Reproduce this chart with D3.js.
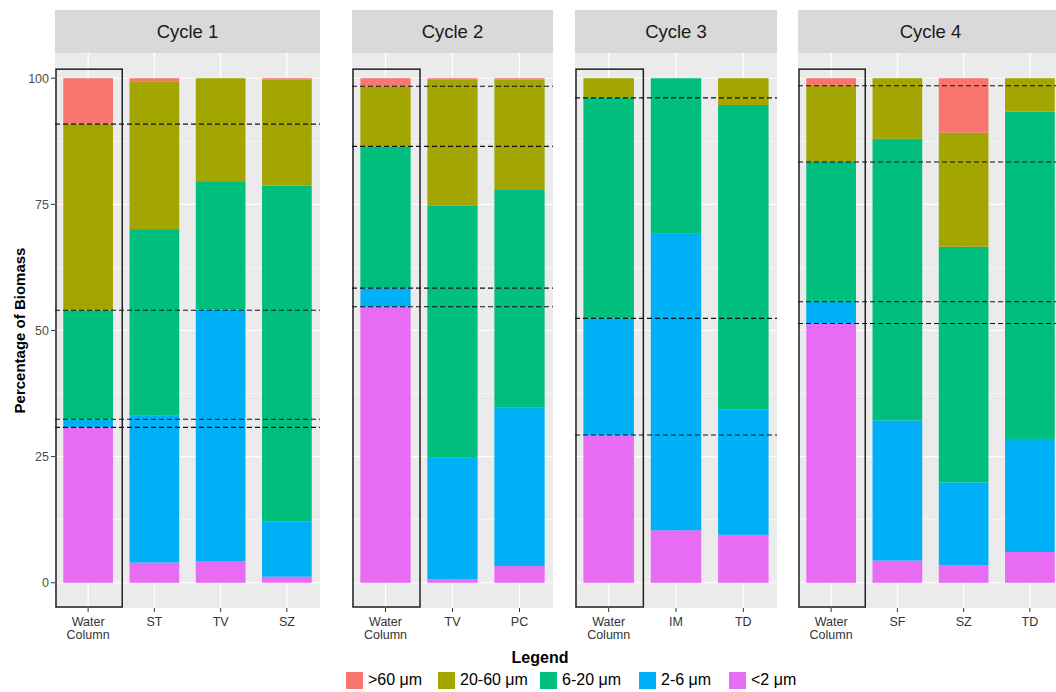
<!DOCTYPE html>
<html>
<head>
<meta charset="utf-8">
<script src="https://cdn.jsdelivr.net/npm/d3@7"></script>
<style>
  html, body { margin: 0; padding: 0; background: #fff; }
  svg { display: block; font-family: "Liberation Sans", Arial, sans-serif; }
</style>
</head>
<body>
<svg id="chart" width="1056" height="692"></svg>
<script>
// ---------------- data ----------------
const cycles = ["Cycle 1", "Cycle 2", "Cycle 3", "Cycle 4"];
const sites = [
  ["Water Column", "ST", "TV", "SZ"],
  ["Water Column", "TV", "PC"],
  ["Water Column", "IM", "TD"],
  ["Water Column", "SF", "SZ", "TD"]
];
const sizeClasses = ["<2 μm", "2-6 μm", "6-20 μm", "20-60 μm", ">60 μm"]; // stacking order bottom -> top
const legendOrder = [">60 μm", "20-60 μm", "6-20 μm", "2-6 μm", "<2 μm"];
const lt2   = [[30.8, 4.0, 4.3, 1.2], [54.7, 0.7, 3.3], [29.3, 10.4, 9.5], [51.4, 4.4, 3.5, 6.1]];
const s2to6 = [[1.6, 29.1, 49.9, 10.9], [3.7, 24.2, 31.5], [23.1, 58.9, 24.8], [4.3, 27.8, 16.4, 22.4]];
const s6to20 = [[21.6, 37.0, 25.4, 66.6], [28.1, 49.9, 43.2], [43.7, 30.7, 60.4], [27.7, 55.8, 46.7, 64.9]];
const s20to60 = [[36.9, 29.3, 20.4, 21.0], [11.9, 25.0, 21.7], [3.9, 0, 5.3], [15.1, 12.0, 22.6, 6.6]];
const gt60  = [[9.1, 0.6, 0, 0.3], [1.6, 0.2, 0.3], [0, 0, 0], [1.5, 0, 10.8, 0]];
const yTicks = [0, 25, 50, 75, 100];
const yMinor = [12.5, 37.5, 62.5, 87.5];

const seriesValues = { "<2 μm": lt2, "2-6 μm": s2to6, "6-20 μm": s6to20, "20-60 μm": s20to60, ">60 μm": gt60 };
const colors = { ">60 μm": "#F8766D", "20-60 μm": "#A3A500", "6-20 μm": "#00BF7D", "2-6 μm": "#00B0F6", "<2 μm": "#E76BF3" };

// ---------------- layout ----------------
const panelExtents = [[55, 320], [352, 553], [575, 777], [798, 1063]];
const stripTop = 10, stripBottom = 53, panelBottom = 608;
const legendKeyX = [346, 438, 540, 639, 729];

const svg = d3.select("#chart");
const y = d3.scaleLinear().domain([-5, 105]).range([panelBottom, stripBottom]);

cycles.forEach((cyc, p) => {
  const [x0, x1] = panelExtents[p];
  const cats = sites[p];
  const x = d3.scaleBand().domain(cats).range([x0, x1]).paddingInner(0.25).paddingOuter(0.125);
  const step = x.step();
  const g = svg.append("g");

  // strip
  g.append("rect").attr("x", x0).attr("y", stripTop).attr("width", x1 - x0).attr("height", stripBottom - stripTop).attr("fill", "#D9D9D9");
  g.append("text").attr("x", (x0 + x1) / 2).attr("y", 38).attr("text-anchor", "middle")
    .attr("font-size", 18.5).attr("fill", "#1A1A1A").text(cyc);

  // panel background
  g.append("rect").attr("x", x0).attr("y", stripBottom).attr("width", x1 - x0).attr("height", panelBottom - stripBottom).attr("fill", "#EBEBEB");

  // grid
  yMinor.forEach(v => g.append("line").attr("x1", x0).attr("x2", x1).attr("y1", y(v)).attr("y2", y(v)).attr("stroke", "#fff").attr("stroke-width", 0.6));
  yTicks.forEach(v => g.append("line").attr("x1", x0).attr("x2", x1).attr("y1", y(v)).attr("y2", y(v)).attr("stroke", "#fff").attr("stroke-width", 1.2));
  cats.forEach(c => {
    const cx = x(c) + x.bandwidth() / 2;
    g.append("line").attr("x1", cx).attr("x2", cx).attr("y1", stripBottom).attr("y2", panelBottom).attr("stroke", "#fff").attr("stroke-width", 1.2);
  });

  // stacked bars
  const rows = cats.map((c, i) => {
    const r = { site: c };
    sizeClasses.forEach(k => r[k] = seriesValues[k][p][i]);
    return r;
  });
  const stacked = d3.stack().keys(sizeClasses)(rows);
  stacked.forEach(layer => {
    g.selectAll(null).data(layer).join("rect")
      .attr("x", d => x(d.data.site))
      .attr("width", x.bandwidth())
      .attr("y", d => y(d[1]))
      .attr("height", d => Math.max(0, y(d[0]) - y(d[1])))
      .attr("fill", colors[layer.key]);
  });

  // Water Column box
  const wc = cats[0];
  const wcx = x(wc) + x.bandwidth() / 2;
  g.append("rect").attr("x", wcx - step / 2 + 1).attr("y", y(101.8))
    .attr("width", step).attr("height", y(-5) - y(101.8) - 1)
    .attr("fill", "none").attr("stroke", "#222").attr("stroke-width", 1.5);

  // dashed lines at water column cumulative boundaries
  const wcStack = stacked.map(layer => layer[0][1]).filter((v, i) => {
    const h = stacked[i][0][1] - stacked[i][0][0];
    return h > 0 && v < 99.95;
  });
  wcStack.forEach(v => {
    g.append("line").attr("x1", x0).attr("x2", x1).attr("y1", y(v)).attr("y2", y(v))
      .attr("stroke", "#111").attr("stroke-width", 1.1).attr("stroke-dasharray", "5,3");
  });

  // x axis ticks & labels
  cats.forEach(c => {
    const cx = x(c) + x.bandwidth() / 2;
    g.append("line").attr("x1", cx).attr("x2", cx).attr("y1", panelBottom).attr("y2", panelBottom + 4).attr("stroke", "#333").attr("stroke-width", 1);
    const words = c.split(" ");
    const t = g.append("text").attr("text-anchor", "middle").attr("font-size", 12.5).attr("fill", "#333");
    words.forEach((w, i) => t.append("tspan").attr("x", cx).attr("y", 626 + i * 12.5).text(w));
  });
});

// y axis (left of first panel)
const ax0 = panelExtents[0][0];
const yAxis = svg.append("g");
yTicks.forEach(v => {
  yAxis.append("line").attr("x1", ax0 - 4).attr("x2", ax0).attr("y1", y(v)).attr("y2", y(v)).attr("stroke", "#333").attr("stroke-width", 1);
  yAxis.append("text").attr("x", ax0 - 6).attr("y", y(v) + 4.3).attr("text-anchor", "end")
    .attr("font-size", 12.5).attr("fill", "#4D4D4D").text(v);
});
svg.append("text").attr("transform", `translate(25,${(stripBottom + panelBottom) / 2}) rotate(-90)`)
  .attr("text-anchor", "middle").attr("font-size", 15).attr("font-weight", "bold").attr("fill", "#000")
  .text("Percentage of Biomass");

// legend
svg.append("text").attr("x", 540).attr("y", 663).attr("text-anchor", "middle")
  .attr("font-size", 16).attr("font-weight", "bold").attr("fill", "#000").text("Legend");
legendOrder.forEach((k, i) => {
  const lx = legendKeyX[i];
  svg.append("rect").attr("x", lx).attr("y", 672).attr("width", 17).attr("height", 17).attr("fill", colors[k]);
  svg.append("text").attr("x", lx + 22).attr("y", 685).attr("font-size", 16).attr("fill", "#000").text(k);
});
</script>
</body>
</html>
